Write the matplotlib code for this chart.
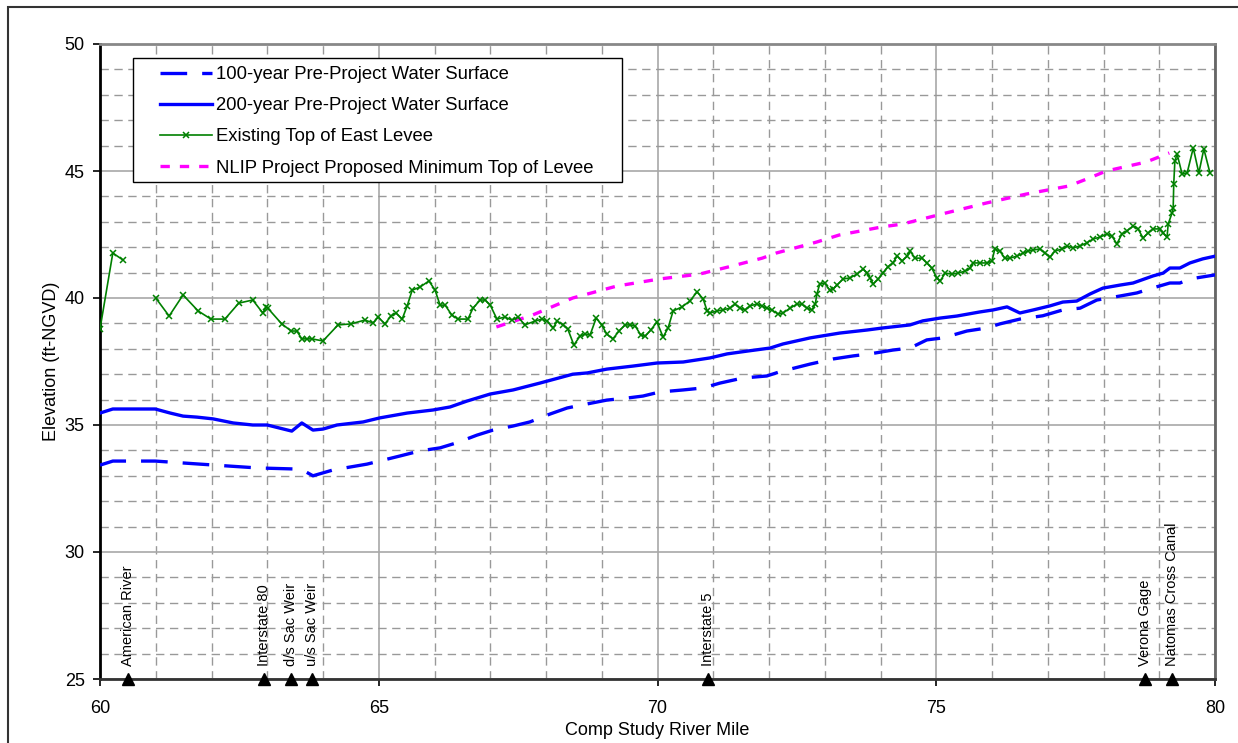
import numpy as np
import matplotlib.pyplot as plt
from matplotlib.ticker import MultipleLocator

plt.rcParams['font.family'] = ['Liberation Sans', 'DejaVu Sans']

# 100-year pre-project water surface (river mile, elevation)
mile_100 = [60.0, 60.23, 60.99, 61.79, 62.82, 63.46, 63.64, 63.82, 64.18, 64.79,
            65.38, 65.74, 66.1, 66.4, 66.76, 67.05, 67.41, 67.71, 68.07, 68.38,
            68.74, 69.09, 69.45, 69.74, 70.04, 70.46, 70.82, 71.12, 71.53, 71.96,
            72.2, 72.74, 73.15, 73.51, 73.81, 74.22, 74.53, 74.83, 75.12, 75.55,
            75.91, 76.14, 76.5, 76.91, 77.27, 77.58, 77.88, 78.3, 78.6, 78.89,
            79.19, 79.37, 79.55, 80.09]
elev_100 = [33.42, 33.58, 33.58, 33.46, 33.31, 33.27, 33.22, 33.0, 33.23, 33.46,
            33.78, 33.98, 34.1, 34.3, 34.6, 34.8, 34.96, 35.12, 35.43, 35.67,
            35.83, 35.98, 36.06, 36.14, 36.3, 36.38, 36.46, 36.65, 36.85, 36.93,
            37.1, 37.4, 37.6, 37.72, 37.8, 37.95, 38.03, 38.35, 38.43, 38.7,
            38.82, 38.98, 39.17, 39.3, 39.53, 39.6, 39.92, 40.08, 40.2, 40.4,
            40.59, 40.59, 40.75, 40.94]

# 200-year pre-project water surface
mile_200 = [60.0, 60.23, 60.99, 61.26, 61.49, 61.74, 62.03, 62.39, 62.74, 63.0,
            63.44, 63.62, 63.82, 64.0, 64.25, 64.72, 65.02, 65.51, 65.97, 66.28,
            66.58, 67.0, 67.41, 67.89, 68.48, 68.74, 69.09, 69.56, 69.99, 70.46,
            70.94, 71.25, 71.61, 72.02, 72.25, 72.74, 73.27, 73.76, 74.04, 74.53,
            74.76, 75.07, 75.37, 75.78, 76.02, 76.27, 76.5, 76.74, 77.04, 77.27,
            77.52, 77.76, 77.99, 78.3, 78.53, 78.89, 79.07, 79.19, 79.37, 79.55,
            79.78, 80.09]
elev_200 = [35.47, 35.63, 35.63, 35.47, 35.35, 35.31, 35.24, 35.08, 35.0, 35.0,
            34.76, 35.08, 34.8, 34.84, 35.0, 35.12, 35.28, 35.47, 35.59, 35.71,
            35.94, 36.22, 36.38, 36.65, 37.0, 37.05, 37.2, 37.32, 37.44, 37.48,
            37.64, 37.8, 37.91, 38.03, 38.19, 38.43, 38.62, 38.74, 38.82, 38.94,
            39.1, 39.21, 39.29, 39.45, 39.53, 39.65, 39.41, 39.53, 39.69, 39.84,
            39.88, 40.16, 40.39, 40.51, 40.59, 40.87, 40.98, 41.18, 41.18, 41.38,
            41.54, 41.69]

# Existing top of east levee (nan = no survey between stations)
mile_levee = [59.9, 60.0, 60.23, 60.41, np.nan,
              61.0, 61.24, 61.49, 61.76, 61.99, 62.24, 62.49, 62.74, 62.92, 62.98,
              63.01, 63.26, 63.43, 63.53, 63.62, 63.71, 63.8, 64.0, 64.27, 64.5,
              64.75, 64.9, 64.99, 65.11, 65.22, 65.31, 65.42, 65.51, 65.6, 65.74,
              65.9, 66.01, 66.1, 66.19, 66.31, 66.42, 66.6, 66.69, 66.82, 66.91,
              67.0, 67.12, 67.26, 67.39, 67.5, 67.62, 67.8, 67.93, 68.02, 68.13,
              68.2, 68.31, 68.39, 68.5, 68.61, 68.7, 68.79, 68.9, 69.0, 69.09,
              69.2, 69.31, 69.42, 69.51, 69.6, 69.7, 69.78, 69.88, 69.99, 70.1,
              70.19, 70.28, 70.44, 70.58, 70.71, 70.82, 70.89, 70.94, 71.07, 71.17,
              71.3, 71.39, 71.48, 71.57, 71.66, 71.78, 71.87, 71.96, 72.05, 72.16,
              72.25, 72.38, 72.5, 72.59, 72.68, 72.77, 72.83, 72.86, 72.91, 73.0,
              73.09, 73.15, 73.22, 73.33, 73.45, 73.58, 73.69, 73.76, 73.81, 73.87,
              73.96, 74.04, 74.13, 74.22, 74.3, 74.39, 74.48, 74.53, 74.62, 74.74,
              74.83, 74.92, 75.01, 75.07, 75.16, 75.28, 75.39, 75.52, 75.61, 75.66,
              75.78, 75.91, 76.0, 76.05, 76.14, 76.23, 76.32, 76.45, 76.56, 76.65,
              76.74, 76.86, 76.95, 77.04, 77.13, 77.26, 77.35, 77.45, 77.58, 77.7,
              77.81, 77.94, 78.06, 78.15, 78.24, 78.33, 78.42, 78.53, 78.62, 78.71,
              78.8, 78.89, 79.01, 79.07, 79.14, 79.16, 79.23, 79.25, 79.26, 79.28,
              79.32, 79.41, 79.5, 79.61, 79.71, 79.8, 79.91]
elev_levee = [38.0, 38.78, 41.77, 41.5, np.nan,
              40.0, 39.29, 40.12, 39.49, 39.17, 39.17, 39.8, 39.92, 39.41, 39.65,
              39.6, 38.98, 38.7, 38.7, 38.39, 38.39, 38.39, 38.31, 38.94, 38.98,
              39.13, 39.02, 39.25, 38.98, 39.29, 39.41, 39.17, 39.69, 40.31, 40.43,
              40.67, 40.31, 39.72, 39.72, 39.33, 39.17, 39.17, 39.6, 39.92, 39.92,
              39.72, 39.17, 39.25, 39.13, 39.25, 38.94, 39.09, 39.17, 39.09, 38.82,
              39.09, 38.94, 38.78, 38.15, 38.5, 38.58, 38.54, 39.21, 38.94, 38.58,
              38.39, 38.7, 38.94, 38.94, 38.9, 38.54, 38.5, 38.74, 39.06, 38.46,
              38.82, 39.49, 39.65, 39.88, 40.24, 39.96, 39.49, 39.41, 39.49, 39.53,
              39.6, 39.76, 39.6, 39.53, 39.69, 39.76, 39.69, 39.6, 39.53, 39.37,
              39.41, 39.6, 39.76, 39.76, 39.6, 39.53, 39.76, 40.16, 40.55, 40.59,
              40.31, 40.35, 40.51, 40.75, 40.79, 40.94, 41.14, 40.98, 40.79, 40.55,
              40.75, 40.98, 41.22, 41.38, 41.65, 41.46, 41.65, 41.85, 41.57, 41.57,
              41.38, 41.18, 40.79, 40.67, 40.98, 40.94, 40.98, 41.06, 41.18, 41.38,
              41.38, 41.38, 41.46, 41.93, 41.85, 41.57, 41.57, 41.65, 41.77, 41.85,
              41.89, 41.93, 41.77, 41.61, 41.85, 41.93, 42.05, 41.97, 42.05, 42.17,
              42.32, 42.4, 42.52, 42.44, 42.13, 42.52, 42.64, 42.83, 42.72, 42.36,
              42.56, 42.72, 42.72, 42.56, 42.4, 42.91, 43.35, 43.54, 44.49, 45.39,
              45.67, 44.88, 44.92, 45.91, 44.92, 45.87, 44.92]

# NLIP proposed minimum top of levee
mile_nlip = [67.11, 67.76, 68.48, 69.27, 70.04, 70.75, 71.34, 71.88, 72.13, 72.85,
             73.26, 74.03, 74.39, 75.18, 75.9, 76.61, 77.38, 77.74, 78.05, 78.76,
             79.18]
elev_nlip = [38.86, 39.33, 40.0, 40.47, 40.75, 40.94, 41.26, 41.57, 41.77, 42.2,
             42.48, 42.8, 42.91, 43.35, 43.74, 44.09, 44.41, 44.72, 45.0, 45.35,
             45.71]

# landmarks along the river
landmark_names = ['American River', 'Interstate 80', 'd/s Sac Weir', 'u/s Sac Weir',
                  'Interstate 5', 'Verona Gage', 'Natomas Cross Canal']
landmark_miles = [60.5, 62.95, 63.43, 63.8, 70.9, 78.75, 79.23]

W, H = 1238, 743
fig = plt.figure(figsize=(W / 100, H / 100), dpi=100)
ax = fig.add_axes([100 / W, 1 - 679 / H, 1115 / W, 635 / H])

# outer chart frame
fig.patches.append(plt.Rectangle((8 / W, -0.1), 1.2, 1.1 - 7 / H, transform=fig.transFigure,
                                 fill=False, edgecolor='#333333', linewidth=1.5))

ax.plot(mile_100, elev_100, color='#0000ff', linewidth=2.4, dashes=(8, 4.5),
        label='100-year Pre-Project Water Surface', zorder=4)
ax.plot(mile_200, elev_200, color='#0000ff', linewidth=2.4,
        label='200-year Pre-Project Water Surface', zorder=4)
ax.plot(mile_levee, elev_levee, color='#008000', linewidth=1.2, marker='x',
        markersize=5, markeredgewidth=1.1, label='Existing Top of East Levee', zorder=5)
ax.plot(mile_nlip, elev_nlip, color='#ff00ff', linewidth=2.4, dashes=(2.8, 3),
        label='NLIP Project Proposed Minimum Top of Levee', zorder=4)

ax.plot(landmark_miles, [25] * len(landmark_miles), linestyle='none', marker='^',
        color='black', markersize=9, clip_on=False, zorder=6)
for name, m in zip(landmark_names, landmark_miles):
    ax.text(m, 25.5, name, rotation=90, ha='center', va='bottom', fontsize=10.5)

ax.set_xlim(60, 80)
ax.set_ylim(25, 50)
ax.xaxis.set_major_locator(MultipleLocator(5))
ax.xaxis.set_minor_locator(MultipleLocator(1))
ax.yaxis.set_major_locator(MultipleLocator(5))
ax.yaxis.set_minor_locator(MultipleLocator(1))
ax.grid(which='major', color='#a8a8a8', linewidth=1.2, linestyle='-')
ax.grid(which='minor', color='#999999', linewidth=1.0, linestyle=(0, (6, 4)))
ax.set_axisbelow(True)
ax.tick_params(which='major', direction='out', length=5, width=1.2, labelsize=13)
ax.tick_params(axis='x', which='major', pad=10)
ax.tick_params(axis='y', which='major', pad=6)
ax.tick_params(which='minor', length=0)

ax.spines['left'].set_color('black')
ax.spines['left'].set_linewidth(2)
ax.spines['bottom'].set_color('#333333')
ax.spines['bottom'].set_linewidth(2)
ax.spines['top'].set_color('#888888')
ax.spines['top'].set_linewidth(2)
ax.spines['right'].set_color('#666666')
ax.spines['right'].set_linewidth(2)

ax.set_xlabel('Comp Study River Mile', fontsize=13)
ax.set_ylabel('Elevation (ft-NGVD)', fontsize=13)
ax.xaxis.set_label_coords(0.5, -0.068)
ax.yaxis.set_label_coords(-0.036, 0.5)

# legend box drawn separately so the padding can be wider than tall
legend_box = plt.Rectangle((133 / W, 1 - 182 / H), 489 / W, 124 / H,
                           transform=fig.transFigure, facecolor='white',
                           edgecolor='black', linewidth=1.0, zorder=9, clip_on=False)
ax.add_patch(legend_box)
leg = ax.legend(loc='upper left', bbox_to_anchor=(160 / W, 1 - 66 / H),
                bbox_transform=fig.transFigure, fontsize=13.3, frameon=False,
                borderaxespad=0, borderpad=0, handlelength=2.8,
                handletextpad=0.22, labelspacing=0.77, numpoints=1)
leg.set_zorder(10)

fig.savefig('out.png', dpi=100)
